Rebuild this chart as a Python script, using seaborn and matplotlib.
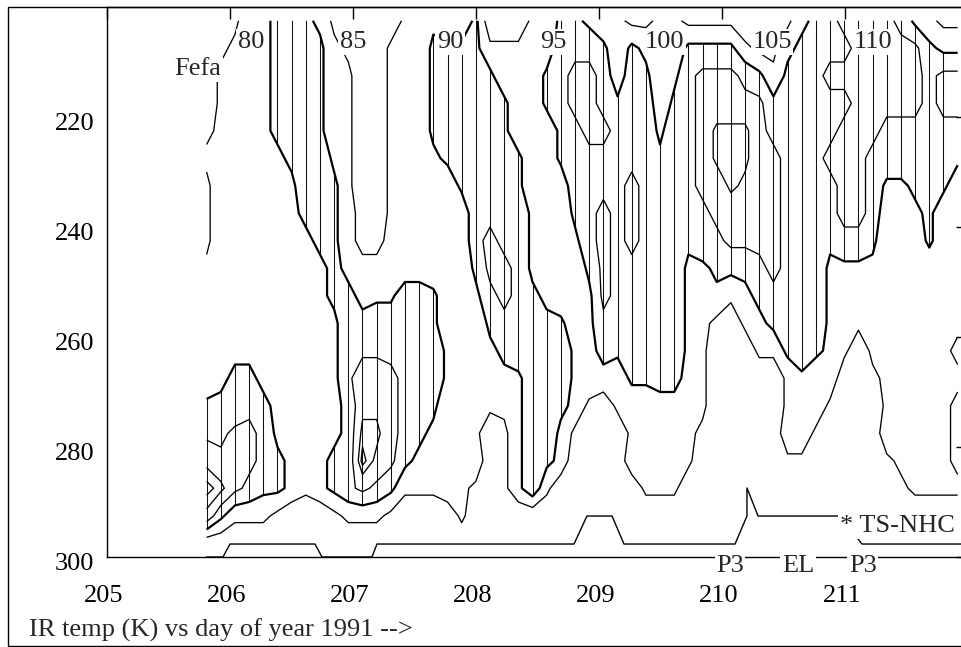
import numpy as np
import pandas as pd
import seaborn as sns
import matplotlib
matplotlib.use("Agg")
import matplotlib.pyplot as plt
from matplotlib.patches import PathPatch, Rectangle
from matplotlib.collections import LineCollection
from matplotlib.transforms import ScaledTranslation

# ---------------------------------------------------------------- data
# IR samples: start time (day of year 1991) and spacing between samples
first_day = 205.81
day_step = 0.1152
# IR brightness-temperature bin centres (K)
temp_bins = [202.5 + 5 * i for i in range(20)]

# occurrence index (0-9) for each sample; one string per sample,
# characters run from the 202.5 K bin to the 297.5 K bin
occurrence = [
    "00001211122222457970", "01222333333333456840", "12333333333334466620",
    "33333333333334566520", "33333333333333455420", "44444333333333334410",
    "55555433333333333300", "45555554333333333200", "34444555433333333300",
    "12222344444333334410", "01222222234555444520", "00000001123457789620",
    "00000000123557787520", "02222222223556666410", "22222222225555554200",
    "22222222225555543200", "34444322224455432200", "24555422222233222300",
    "24555542222222222220", "44555555543222223100", "02455555665432200000",
    "02244555566543211100", "02222445555553333300", "22222223334555555500",
    "22442222223455554200", "45554422222455433000", "45665554322233310000",
    "35666555543333100000", "24556556666543000000", "22245555555542200000",
    "14555566655554223000", "13455555555554222200", "22223455555554322200",
    "22345555555554322200", "14555555433333222000", "14666665532222210000",
    "14668866543100000000", "14668886642000000000", "02568876643200000000",
    "01466666654320000000", "01245666665420000000", "13455555555542231000",
    "34555555555553231000", "45555555555542310000", "55655655433333100000",
    "65656666533220000000", "66666666533200000000", "66666555433321000000",
    "66665532222222231000", "56665532222222222100", "36665543222222222200",
    "24555544422222222200", "13665542222222222200", "13665422222212111200",
]

# contour levels of the occurrence index
thin_low = [1.5]
hatched_level = 3.5
thin_high = [5.5, 7.5, 8.5]

# aircraft track drawn along the bottom (day, K)
track_days = [205.81, 205.943, 206.0, 206.691, 206.748, 207.154, 207.195,
              208.797, 208.902, 209.106, 209.203, 210.106, 210.203, 210.203,
              210.293, 210.959, 211.138, 212.0]
track_temps = [300, 300, 297.64, 297.64, 300, 300, 297.64,
               297.64, 292.55, 292.55, 297.64, 297.64, 292.55, 287.45,
               292.55, 292.55, 297.64, 297.64]

# labels along the top of the panel
top_marks = ["80", "85", "90", "95", "100", "105", "110"]
top_mark_days = [206.171, 207.0, 207.789, 208.626, 209.53, 210.407, 211.228]
# platform labels on the time axis
platforms = ["P3", "EL", "P3"]
platform_days = [210.065, 210.618, 211.146]

x_ticks = [205, 206, 207, 208, 209, 210, 211]
y_ticks = [220, 240, 260, 280, 300]

# ---------------------------------------------------------------- style
sns.set_theme(style="white", rc={"axes.edgecolor": "black",
                                 "axes.linewidth": 1.0,
                                 "xtick.color": "black",
                                 "ytick.color": "black"})
plt.rcParams["font.family"] = ["Liberation Serif", "DejaVu Serif"]
FS = 19

W, H = 962, 647
fig = plt.figure(figsize=(W / 100, H / 100), dpi=100)
fig.patch.set_facecolor("white")
# panel: 205 .. 212 days, 200 .. 300 K
ax = fig.add_axes([107 / W, 1 - 557 / H, 861 / W, 550 / H])
ax.set_facecolor("white")

days = np.array([first_day + day_step * k for k in range(len(occurrence))])
temps = np.array(temp_bins)
Z = np.array([[int(c) for c in s] for s in occurrence], dtype=float).T
X, Y = np.meshgrid(days, temps)

# hatched region: vertical line at every sample inside the region
fill_cs = ax.contourf(X, Y, Z, levels=[hatched_level, 10], colors=["none"])
region = fill_cs.get_paths()[0]
clip_patch = PathPatch(region, transform=ax.transData,
                       facecolor="none", edgecolor="none")
ax.add_patch(clip_patch)
segs = [[(d, 200.0), (d, 300.0)] for d in days]
hatch = LineCollection(segs, colors="#111111", linewidths=0.75, zorder=2)
hatch.set_clip_path(clip_patch)
ax.add_collection(hatch)

ax.contour(X, Y, Z, levels=thin_low, colors="black", linewidths=0.95)
ax.contour(X, Y, Z, levels=[hatched_level], colors="black", linewidths=1.6)
ax.contour(X, Y, Z, levels=thin_high, colors="black", linewidths=0.95)

track = pd.DataFrame({"day": track_days, "temp": track_temps})
sns.lineplot(data=track, x="day", y="temp", sort=False, estimator=None,
             color="black", linewidth=1.0, ax=ax)

ax.set_xlim(205, 212)
ax.set_ylim(300, 200)
ax.set_xlabel("")
ax.set_ylabel("")
ax.set_xticks(x_ticks)
ax.set_xticklabels([str(t) for t in x_ticks])
ax.set_yticks(y_ticks)
ax.set_yticklabels([str(t) for t in y_ticks])
ax.tick_params(axis="both", direction="in", length=8.6, width=1.0,
               top=True, right=True, labelsize=FS)
ax.tick_params(axis="x", pad=20)
ax.tick_params(axis="y", pad=9)
for s in ax.spines.values():
    s.set_linewidth(1.0)
# temperature labels sit slightly below their ticks
shift_down = ScaledTranslation(0, -5 / 100, fig.dpi_scale_trans)
for lab in ax.get_yticklabels():
    lab.set_transform(lab.get_transform() + shift_down)
shift_left = ScaledTranslation(-3 / 100, 0, fig.dpi_scale_trans)
for lab in ax.get_xticklabels():
    lab.set_transform(lab.get_transform() + shift_left)

box = dict(boxstyle="square,pad=0.06", facecolor="white", edgecolor="none")
for lab, d in zip(top_marks, top_mark_days):
    ax.text(d, 207.45, lab, ha="center", va="baseline", fontsize=FS,
            bbox=box, zorder=5)
ax.text(205.741, 212.4, "Fefa", ha="center", va="baseline", fontsize=FS,
        bbox=box, zorder=5)
for lab, d in zip(platforms, platform_days):
    ax.text(d, 302.7, lab, ha="center", va="baseline", fontsize=FS,
            bbox=box, zorder=5, clip_on=False)
ax.text(210.96, 295.5, "* TS-NHC", ha="left", va="baseline", fontsize=FS,
        bbox=box, zorder=5)

# outer frame and caption
fig.add_artist(Rectangle((8 / W, 1 - 646 / H), 967 / W, 639 / H,
                         transform=fig.transFigure, fill=False,
                         edgecolor="black", linewidth=1.0))
fig.text(29 / W, 1 - 637 / H, "IR temp (K) vs day of year 1991 -->",
         ha="left", va="baseline", fontsize=FS)

fig.savefig("out.png", dpi=100, facecolor="white")
